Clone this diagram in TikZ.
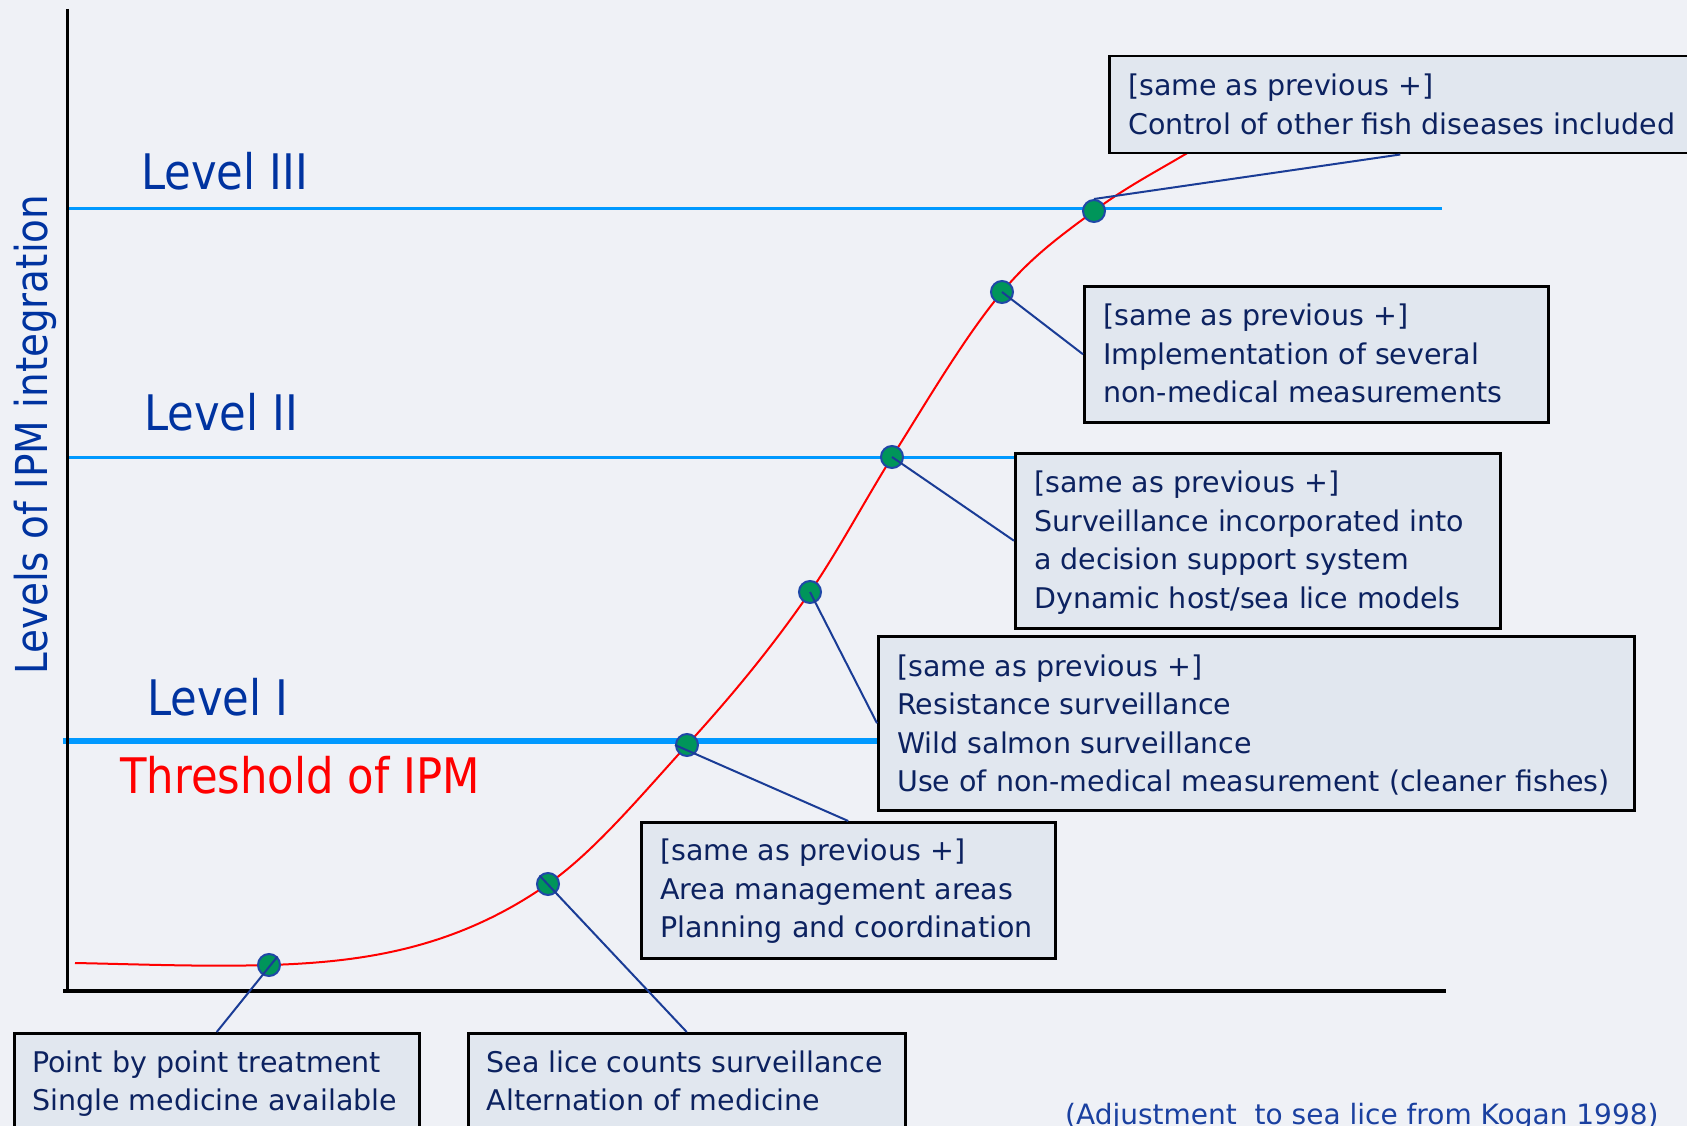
\documentclass[tikz,border=0pt]{standalone}
\usepackage{fontspec}
\setmainfont{DejaVu Sans}
\newfontfamily\narrowfont{DejaVu Sans}[FakeStretch=0.885]
\definecolor{bgc}{HTML}{EFF1F6}
\definecolor{boxfill}{HTML}{E1E7EF}
\definecolor{boxtext}{HTML}{0C2260}
\definecolor{labc}{HTML}{0033A0}
\definecolor{lvlc}{HTML}{0099FF}
\definecolor{connc}{HTML}{1A3C96}
\definecolor{dotfill}{HTML}{00955A}
\definecolor{dotdraw}{HTML}{1F48A8}
\definecolor{citec}{HTML}{1A40A0}
\begin{document}
\begin{tikzpicture}[x=1pt,y=-1pt,
  boxn/.style={draw=black, line width=2.5pt, fill=boxfill, inner sep=0pt, anchor=north west},
  boxtxt/.style={anchor=base west, inner sep=0pt, text=boxtext, font=\fontsize{28.5}{38.5}\selectfont},
  lvltxt/.style={anchor=base west, inner sep=0pt, text=labc, font=\narrowfont\fontsize{49}{58}\selectfont},
  lvlline/.style={draw=lvlc, line width=3pt},
  conn/.style={draw=connc, line width=2pt},
  dotn/.style={circle, fill=dotfill, draw=dotdraw, line width=2pt, minimum size=22pt, inner sep=0pt},
  axis/.style={draw=black, line width=3pt}]
\useasboundingbox (0,0) rectangle (1687,1126);
\fill[bgc] (0,0) rectangle (1687,1126);

% level lines
\coordinate (l3a) at (67,209); \coordinate (l3b) at (1442,209);
\coordinate (l2a) at (67,457); \coordinate (l2b) at (1014,457);
\coordinate (l1a) at (63,741); \coordinate (l1b) at (877,741);
\draw[lvlline] (l3a) -- (l3b);
\draw[lvlline] (l2a) -- (l2b);
\draw[lvlline, line width=6pt] (l1a) -- (l1b);

% axes
\coordinate (ytop) at (67,9); \coordinate (org) at (67,991); \coordinate (xend) at (1446,991);
\draw[axis] (ytop) -- (org);
\draw[axis, line width=4pt] (63,991) -- (xend);

% labels
\node[lvltxt] (lev3) at (141,190) {Level III};
\node[lvltxt] (lev2) at (144,430) {Level II};
\node[lvltxt] (lev1) at (147,715) {Level I};
\node[lvltxt, text=red] (thr) at (120,793) {Threshold of IPM};
\node[anchor=base west, inner sep=0pt, rotate=90, text=labc, font=\narrowfont\fontsize{44}{52}\selectfont] (ylab) at (47,675) {Levels of IPM integration};

% curve
\draw[red, line width=2pt] (75,963)
  .. controls (139.7,964.3) and (204.3,966.9) .. (269,965)
  .. controls (362,962.2) and (455,949.1) .. (548,884)
  .. controls (594.3,851.6) and (640.7,795.9) .. (687,745)
  .. controls (728,699.9) and (769,651.5) .. (810,592)
  .. controls (837.3,552.4) and (864.7,500.7) .. (892,457)
  .. controls (928.7,398.3) and (965.3,336) .. (1002,292)
  .. controls (1032.7,255.2) and (1063.3,234) .. (1094,211)
  .. controls (1125.7,187.2) and (1157.3,171) .. (1189,152)
  .. controls (1205,142.4) and (1225,130) .. (1240,122);

% boxes
\node[boxn, minimum width=582pt, minimum height=97pt] (bA) at (1108,55) {};
\node[boxn, minimum width=464pt, minimum height=136pt] (bB) at (1083,285) {};
\node[boxn, minimum width=485pt, minimum height=175pt] (bC) at (1014,452) {};
\node[boxn, minimum width=756pt, minimum height=174pt] (bD) at (877,635) {};
\node[boxn, minimum width=414pt, minimum height=136pt] (bE) at (640,821) {};
\node[boxn, minimum width=405pt, minimum height=97pt] (bF) at (13,1032) {};
\node[boxn, minimum width=437pt, minimum height=97pt] (bG) at (467,1032) {};

\node[boxtxt] (tA) at ([shift={(20,41)}]bA.north west) {\begin{tabular}[t]{@{}l@{}}[same as previous +]\\Control of other fish diseases included\end{tabular}};
\node[boxtxt] (tB) at ([shift={(20,40.5)}]bB.north west) {\begin{tabular}[t]{@{}l@{}}[same as previous +]\\Implementation of several\\non-medical measurements\end{tabular}};
\node[boxtxt] (tC) at ([shift={(20,40.5)}]bC.north west) {\begin{tabular}[t]{@{}l@{}}[same as previous +]\\Surveillance incorporated into\\a decision support system\\Dynamic host/sea lice models\end{tabular}};
\node[boxtxt] (tD) at ([shift={(20,41)}]bD.north west) {\begin{tabular}[t]{@{}l@{}}[same as previous +]\\Resistance surveillance\\Wild salmon surveillance\\Use of non-medical measurement (cleaner fishes)\end{tabular}};
\node[boxtxt] (tE) at ([shift={(20,39.5)}]bE.north west) {\begin{tabular}[t]{@{}l@{}}[same as previous +]\\Area management areas\\Planning and coordination\end{tabular}};
\node[boxtxt] (tF) at ([shift={(19,40)}]bF.north west) {\begin{tabular}[t]{@{}l@{}}Point by point treatment\\Single medicine available\end{tabular}};
\node[boxtxt] (tG) at ([shift={(19.5,40)}]bG.north west) {\begin{tabular}[t]{@{}l@{}}Sea lice counts surveillance\\Alternation of medicine\end{tabular}};

% dots
\node[dotn] (p1) at (269,965) {};
\node[dotn] (p2) at (548,884) {};
\node[dotn] (p3) at (687,745) {};
\node[dotn] (p4) at (810,592) {};
\node[dotn] (p5) at (892,457) {};
\node[dotn] (p6) at (1002,292) {};
\node[dotn] (p7) at (1094,211) {};

% connectors
\draw[conn] (p1.north east) -- (bF.north);
\draw[conn] (p2.north west) -- (bG.north);
\draw[conn] (p3.west) -- (bE.north);
\draw[conn] (p4.center) -- (bD.west);
\draw[conn] (p5.center) -- (bC.west);
\draw[conn] (p6.center) -- (bB.west);
\draw[conn] (p7.north) -- (bA.south);

% citation
\node[anchor=base west, inner sep=0pt, text=citec, font=\fontsize{28}{34}\selectfont] (cite) at (1065,1124) {(Adjustment\ \ to sea lice from Kogan 1998)};
\end{tikzpicture}
\end{document}
